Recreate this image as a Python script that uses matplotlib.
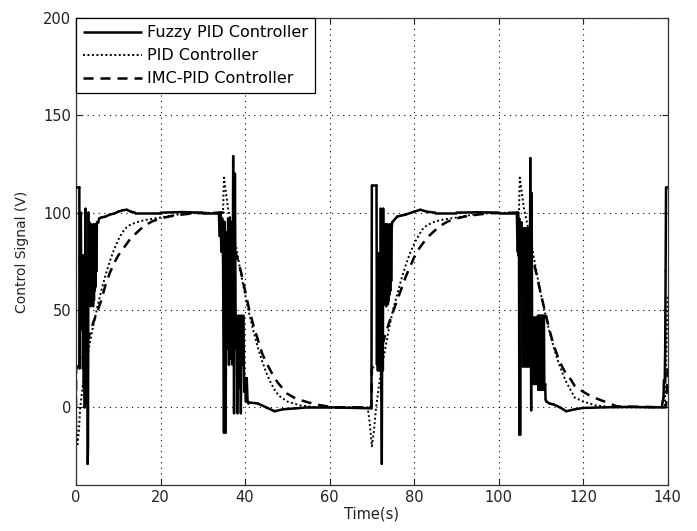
import matplotlib
matplotlib.use("Agg")
import matplotlib.pyplot as plt
from matplotlib.collections import LineCollection

plt.rcParams["font.family"] = ["DejaVu Sans"]
plt.rcParams["font.size"] = 10.5
plt.rcParams["path.simplify"] = False

# Fuzzy PID controller output
fuzzy_t = [
    # step up at t=0
    0.0, 0.8, 0.85, 0.95, 1.05, 1.15, 1.25, 1.35, 1.45, 1.55, 1.65, 1.75, 1.85, 1.95,
    2.05, 2.15, 2.25, 2.35, 2.45, 2.55, 2.65, 2.75, 2.85, 2.95, 3.05, 3.15, 3.25, 3.35,
    3.45, 3.55, 3.65, 3.75, 3.85, 3.95, 4.05, 4.15, 4.25, 4.35, 4.45, 4.55, 4.65, 4.75,
    4.85, 4.95, 5.2, 5.5, 6.0, 7.0, 8.0, 9.0, 10.0, 11.0, 12.0, 13.0, 14.0, 20.0, 25.0,
    30.0, 33.8,
    # step down at t=35
    34.0, 34.2, 34.4, 34.6, 34.8, 35.0, 35.2, 35.4, 35.6, 35.8, 36.0, 36.2, 36.4, 36.6,
    36.8, 37.0, 37.2, 37.4, 37.6, 37.8, 38.0, 38.2, 38.4, 38.6, 38.8, 39.0, 39.2, 39.4,
    39.6, 39.8, 40.0, 40.2, 40.4, 40.6, 40.8, 41.0, 43.0, 45.0, 47.0, 49.0, 52.0, 55.0,
    60.0, 69.9,
    # step up at t=70
    70.0, 71.1, 71.2, 71.3, 71.4, 71.5, 71.6, 71.7, 71.8, 71.9, 72.0, 72.1, 72.2, 72.35,
    72.5, 72.6, 72.7, 72.8, 72.9, 73.0, 73.1, 73.2, 73.3, 73.4, 73.5, 73.6, 73.7, 73.8,
    73.9, 74.0, 74.1, 74.2, 74.3, 74.4, 74.5, 74.6, 74.7, 74.8, 75.2, 76.0, 77.0, 78.0,
    80.0, 81.5, 83.0, 85.0, 90.0, 95.0, 100.0, 104.3,
    # step down at t=105
    104.5, 104.6, 104.7, 104.8, 104.9, 105.0, 105.1, 105.2, 105.3, 105.4, 105.5, 105.6,
    105.7, 105.8, 105.9, 106.0, 106.1, 106.2, 106.3, 106.4, 106.5, 106.6, 106.7, 106.8,
    106.9, 107.0, 107.1, 107.2, 107.3, 107.5, 107.7, 107.8, 107.9, 108.0, 108.1, 108.2,
    108.3, 108.4, 108.5, 108.6, 108.7, 108.8, 108.9, 109.0, 109.1, 109.3, 109.4, 109.5,
    109.6, 109.7, 109.8, 109.9, 110.0, 110.1, 110.2, 110.3, 110.4, 110.5, 110.6, 110.7,
    110.8, 111.0, 111.1, 111.3, 112.0, 113.0, 114.5, 116.0, 118.0, 120.0, 125.0, 130.0,
    138.6,
    # step up at t=140
    138.8, 139.0, 139.1, 139.3, 139.4, 139.5, 139.6, 140.0,
]
fuzzy_y = [
    113, 113, 20, 78, 65, 100, 64, 78, 40, 78, 20, 66, 10, 78,
    0, 64, 102, 2, 78, 20, 70, -29, -20, 100, 55, 95, 54, 93,
    52, 94, 53, 92, 55, 93, 52, 94, 55, 93, 60, 94, 62, 93,
    70, 95, 95, 97, 97.5, 98, 99, 99.5, 100.5, 101.2, 101.5, 100.5, 100, 100, 100.3,
    100, 100,
    88, 100, 80, 97, 75, -13, 95, -13, 90, 30, 97, 22, 97, 25,
    95, 22, 129, -3, 120, 30, 47, -3, 47, 10, 47, -3, 47, 22,
    47, 8, 15, 3, 15, 3, 2, 2.5, 2, 0, -2, -1, -0.5, 0,
    0, -0.5,
    114, 114, 22, 79, 19, 79, 25, 75, 19, 79, 22, 102, 20, -29,
    80, 19, 102, 53, 94, 53, 93, 55, 94, 52, 93, 54, 94, 53,
    92, 55, 93, 58, 94, 60, 93, 65, 92, 95, 96, 98, 98.5, 99,
    100.5, 101.5, 100.5, 100, 100, 100.2, 100, 100,
    80, 100, 78, 97, -14, 92, -14, 90, 75, 95, 60, 92,
    21, 92, 25, 90, 21, 92, 23, 91, 21, 92, 24, 90,
    21, 92, 22, 91, 21, 128, -1.5, 110, 46, 12, 46, 12,
    46, 14, 46, 12, 46, 15, 46, 12, 46, 47, 9, 47,
    10, 47, 9, 47, 12, 47, 9, 47, 10, 47, 9, 47,
    12, 12, 4, 3, 2, 1.5, 0, -2, -1, -0.3, 0, 0.2,
    0,
    3, 5, 14, 14, 30, 70, 113, 113,
]

# conventional PID controller output
pid_t = [
    0.0, 0.3, 0.7, 1.0, 1.5, 2.0, 3.0, 4.0, 5.0, 6.0, 7.0, 8.0, 9.0, 10.0, 11.0, 12.0,
    13.0, 15.0, 17.0, 20.0, 24.0, 28.0, 34.8,
    35.0, 35.5, 36.0, 37.0, 38.0, 39.0, 40.0, 41.0, 42.0, 43.0, 44.0, 45.0, 46.0, 47.0,
    48.0, 50.0, 53.0, 57.0, 69.0,
    69.5, 70.0, 70.5, 71.0, 71.5, 72.0, 73.0, 74.0, 75.0, 76.0, 77.0, 78.0, 79.0, 80.0,
    81.0, 82.0, 83.0, 85.0, 87.0, 90.0, 94.0, 98.0, 104.8,
    105.0, 105.5, 106.0, 107.0, 108.0, 109.0, 110.0, 111.0, 112.0, 113.0, 114.0, 115.0,
    116.0, 117.0, 118.0, 120.0, 123.0, 127.0, 139.3, 139.6, 140.0,
]
pid_y = [
    0, -20, -12, 0, 9, 18, 30, 41, 51, 60, 68, 75, 81, 86, 90, 92.5,
    94, 95.5, 96.5, 97.5, 99, 99.8, 100,
    118, 110, 102, 92, 81, 69, 58, 48, 39, 31, 24, 18, 13, 9,
    6, 3, 1, 0, 0,
    -8, -20, -12, 0, 8, 16, 28, 40, 50, 58, 66, 73, 79, 84,
    88, 91.5, 93.5, 95.5, 96.5, 97.5, 99, 99.8, 100,
    118, 110, 102, 92, 81, 69, 58, 48, 39, 31, 24, 18,
    13, 9, 5, 3, 1, 0, 0, 20, 58,
]

# IMC-PID controller output
imc_t = [
    0.0, 0.05, 1.0, 2.0, 3.0, 4.0, 5.0, 6.0, 7.0, 8.0, 9.0, 10.0, 11.0, 12.0, 13.0, 14.0,
    15.0, 16.0, 18.0, 20.0, 22.0, 25.0, 28.0, 34.9,
    35.0, 36.0, 37.0, 38.0, 39.0, 40.0, 41.0, 42.0, 43.0, 44.0, 45.0, 46.0, 47.0, 48.0,
    50.0, 52.0, 55.0, 58.0, 61.0, 69.9,
    70.0, 71.0, 72.0, 73.0, 74.0, 75.0, 76.0, 77.0, 78.0, 79.0, 80.0, 81.0, 82.0, 83.0,
    84.0, 85.0, 86.0, 88.0, 90.0, 92.0, 95.0, 98.0, 104.9,
    105.0, 106.0, 107.0, 108.0, 109.0, 110.0, 111.0, 112.0, 113.0, 114.0, 115.0, 116.0,
    117.0, 118.0, 120.0, 122.0, 125.0, 128.0, 139.6, 140.0,
]
imc_y = [
    0, 20, 22, 28, 36, 43, 49, 55, 63, 69, 74, 78, 81, 84, 87, 89,
    91, 93, 95.5, 97, 98, 99, 99.7, 100,
    88, 85, 82, 78, 70, 60, 50, 42, 35, 28, 23, 19, 15, 12,
    7, 4.5, 2.5, 1, 0, 0,
    20, 22, 28, 36, 43, 49, 55, 61, 67, 72, 77, 81, 84, 87,
    89, 91, 93, 95.5, 97, 98, 99, 99.7, 100,
    88, 85, 82, 77, 68, 58, 49, 40, 32, 26, 21, 17,
    14.5, 11, 8, 5.5, 3, 0.5, 0, 20,
]

x_ticks = [0, 20, 40, 60, 80, 100, 120, 140]
y_ticks = [0, 50, 100, 150, 200]

fig = plt.figure(figsize=(6.97, 5.31), dpi=100)
ax = fig.add_axes([0.109, 0.0862, 0.849, 0.880])

# fuzzy output as separate segments so the fast switching fills solid
fuzzy_pts = list(zip(fuzzy_t, fuzzy_y))
fuzzy_segs = [[fuzzy_pts[i], fuzzy_pts[i + 1]] for i in range(len(fuzzy_pts) - 1)]
lc = LineCollection(fuzzy_segs, colors="black", linewidths=1.8, capstyle="round",
                    label="Fuzzy PID Controller", zorder=3)
ax.add_collection(lc)
ax.plot(pid_t, pid_y, color="black", linewidth=1.4, linestyle=(0, (1, 1.3)), label="PID Controller", zorder=2)
ax.plot(imc_t, imc_y, color="black", linewidth=1.8, linestyle=(0, (4, 2.8)), label="IMC-PID Controller", zorder=2)

ax.set_xlim(0, 140)
ax.set_ylim(-40, 200)
ax.set_xticks(x_ticks)
ax.set_yticks(y_ticks)
ax.grid(True, color="black", linestyle=(0, (1, 4)), linewidth=0.8)
ax.tick_params(direction="in", length=4, top=True, right=True, colors="#222222", labelcolor="#222222")
for s in ax.spines.values():
    s.set_linewidth(0.9)
    s.set_color("#333333")

ax.set_xlabel("Time(s)", color="#222222", labelpad=1)
ax.set_ylabel("Control Signal (V)", color="#222222", labelpad=10, fontsize=10)

leg = ax.legend(loc="upper left", borderaxespad=0, fancybox=False, framealpha=1,
                edgecolor="black", handlelength=3.7, handletextpad=0.3,
                labelspacing=0.5, borderpad=0.45, fontsize=11.5)
leg.get_frame().set_linewidth(0.9)

plt.savefig("out.png", dpi=100)
